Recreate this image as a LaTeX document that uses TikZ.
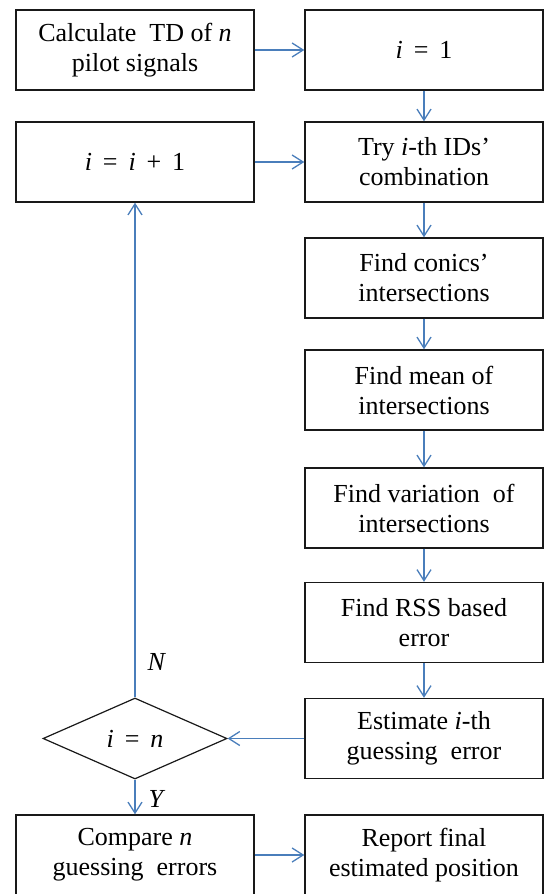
\documentclass[tikz,border=0pt]{standalone}
\usepackage{fontspec}
\setmainfont{Liberation Serif}
\usetikzlibrary{shapes.geometric,arrows.meta}
\definecolor{linkblue}{HTML}{4A7EBB}
\newcommand{\mv}[1]{\textit{#1}}
\newcommand{\mop}[1]{\hspace{0.42em}#1\hspace{0.42em}}
\begin{document}
\begin{tikzpicture}[x=1pt,y=-1pt,
  box/.style={draw=black!90,line width=1.4pt,minimum width=238pt,minimum height=80pt,inner sep=0pt,align=center,font=\fontsize{26}{30}\selectfont},
  decision/.style={draw=black!90,line width=1.2pt,shape=diamond,aspect=2.27,minimum width=184pt,minimum height=81pt,inner sep=0pt,font=\fontsize{26}{30}\selectfont},
  flow/.style={draw=linkblue,line width=1.3pt,-{Straight Barb[length=11pt,width=14pt,line width=1.3pt]}},
  lab/.style={inner sep=0pt,font=\fontsize{26}{30}\selectfont}]
\useasboundingbox (0,0) rectangle (544,894);
\node[box] (calc) at (135,50) {Calculate\ \ TD of \mv{n}\\pilot signals};
\node[box] (ione) at (424,50) {\mv{i}\mop{=}1};
\node[box] (inc) at (135,162) {\mv{i}\mop{=}\mv{i}\mop{+}1};
\node[box] (try) at (424,162) {Try \mv{i}-th IDs’\\combination};
\node[box] (conics) at (424,278) {Find conics’\\intersections};
\node[box] (mean) at (424,390) {Find mean of\\intersections};
\node[box] (var) at (424,508) {Find variation\ \ of\\intersections};
\node[box] (rss) at (424,622.5) {Find RSS based\\error};
\node[box] (est) at (424,738.5) {Estimate \mv{i}-th\\guessing\ \ error};
\node[decision] (dec) at (135,738.5) {\mv{i}\mop{=}\mv{n}};
\node[box] (cmp) at (135,855) {Compare \mv{n}\\guessing\ \ errors};
\node[box] (rep) at (424,855) {Report final\\estimated position};
\node[lab] (nlab) at (157,662) {\mv{N}};
\node[lab] (ylab) at (157,798.5) {\mv{Y}};
\draw[flow] (calc.east) -- (ione.west);
\draw[flow] (ione.south) -- (try.north);
\draw[flow] (inc.east) -- (try.west);
\draw[flow] (try.south) -- (conics.north);
\draw[flow] (conics.south) -- (mean.north);
\draw[flow] (mean.south) -- (var.north);
\draw[flow] (var.south) -- (rss.north);
\draw[flow] (rss.south) -- (est.north);
\draw[flow] (est.west) -- (dec.east);
\draw[flow] (dec.north) -- (inc.south);
\draw[flow] (dec.south) -- (cmp.north);
\draw[flow] (cmp.east) -- (rep.west);
\end{tikzpicture}
\end{document}
